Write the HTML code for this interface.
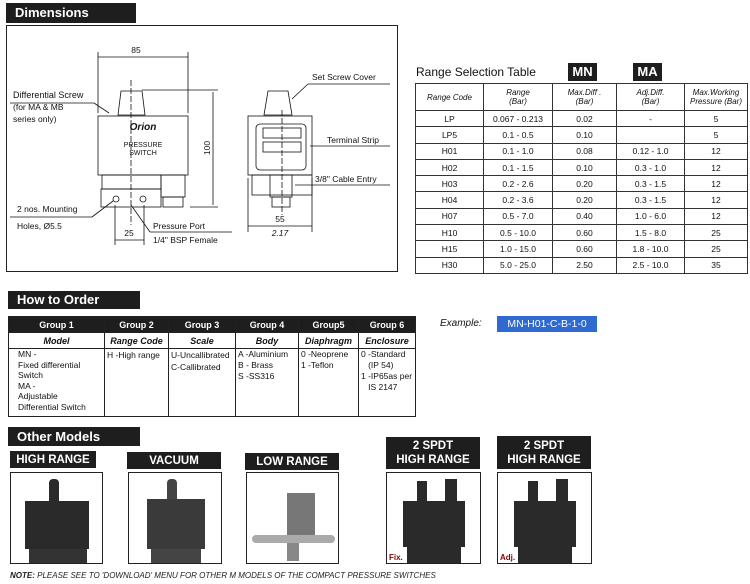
<!DOCTYPE html>
<html><head><meta charset="utf-8"><style>
body{margin:0;width:750px;height:584px;background:#fff;font-family:"Liberation Sans",sans-serif;position:relative;overflow:hidden;color:#111}
.a{position:absolute}
.hd{position:absolute;background:#1e1e1e;color:#fff;font-weight:bold;font-size:13px;padding-left:9px;box-sizing:border-box;line-height:19px}
table{border-collapse:collapse;position:absolute}
.rt td{border:1px solid #333;text-align:center;font-size:8.5px;height:15.3px;padding:0}
.rt th{border:1px solid #333;font-size:8px;font-style:italic;font-weight:normal;height:26px;padding:0;line-height:9px}
.ot td{border:1px solid #222;font-size:8.5px;padding:0 2px;vertical-align:top}
.ot tr.h td{background:#1e1e1e;color:#fff;font-weight:bold;text-align:center;height:15px;vertical-align:middle;font-size:9px}
.ot tr.s td{font-weight:bold;font-style:italic;text-align:center;height:15px;vertical-align:middle;font-size:9px}
.lbl{position:absolute;background:#1e1e1e;color:#fff;font-weight:bold;font-size:11.5px;text-align:center;line-height:14px;display:flex;align-items:center;justify-content:center}
.img{position:absolute;border:1px solid #222;box-sizing:border-box;background:#fff}
.sw{position:absolute;background:#2a2a2a}
</style></head><body>
<div class="hd" style="left:6px;top:3px;width:130px;height:20px">Dimensions</div>
<div class="a" style="left:6px;top:25px;width:392px;height:247px;border:1px solid #222;box-sizing:border-box"></div>
<svg class="a" style="left:0;top:0" width="400" height="275" font-family="Liberation Sans" font-size="8.5" fill="#111">
<g stroke="#111" fill="none" stroke-width="0.8">
<line x1="98" y1="52" x2="98" y2="113"/><line x1="188" y1="52" x2="188" y2="113"/>
<line x1="98" y1="57" x2="188" y2="57"/>
<polygon points="121,91 142,91 145,115 118,115"/>
<rect x="98" y="116" width="90" height="59"/>
<rect x="102" y="175" width="59" height="14"/>
<rect x="101" y="189" width="60" height="18"/>
<rect x="161" y="175" width="24" height="22"/><rect x="163" y="197" width="20" height="10"/>
<line x1="131" y1="80" x2="131" y2="225" stroke-dasharray="6,2"/>
<circle cx="116" cy="199" r="3"/><circle cx="143" cy="199" r="3"/>
<line x1="142" y1="90" x2="218" y2="90"/><line x1="190" y1="207" x2="218" y2="207"/>
<line x1="213" y1="92" x2="213" y2="205"/>
<line x1="115" y1="205" x2="115" y2="245"/><line x1="144" y1="205" x2="144" y2="245"/>
<line x1="115" y1="240" x2="144" y2="240"/>
<line x1="10" y1="103" x2="94" y2="103"/><line x1="94" y1="103" x2="109" y2="113"/>
<line x1="10" y1="217" x2="92" y2="217"/><line x1="92" y1="217" x2="113" y2="201"/>
<line x1="131" y1="205" x2="150" y2="232"/><line x1="150" y1="232" x2="232" y2="232"/>
<polygon points="268,91 288,91 292,115 264,115"/>
<rect x="248" y="116" width="64" height="59"/>
<rect x="256" y="124" width="50" height="46" rx="4"/>
<rect x="263" y="128" width="38" height="10"/><rect x="263" y="142" width="38" height="10"/>
<rect x="270" y="175" width="22" height="22"/><rect x="272" y="197" width="18" height="10"/>
<rect x="252" y="175" width="60" height="20"/>
<line x1="282" y1="110" x2="282" y2="215" stroke-dasharray="6,2"/>
<line x1="248" y1="178" x2="248" y2="232"/><line x1="312" y1="178" x2="312" y2="232"/>
<line x1="248" y1="226" x2="312" y2="226"/>
<line x1="292" y1="99" x2="308" y2="84"/><line x1="308" y1="84" x2="390" y2="84"/>
<line x1="310" y1="146" x2="390" y2="146"/>
<line x1="295" y1="185" x2="390" y2="185"/>
</g>
<text x="136" y="53" text-anchor="middle">85</text>
<text x="13" y="98" font-size="9">Differential Screw</text>
<text x="13" y="110">(for MA &amp; MB</text><text x="13" y="122">series only)</text>
<text x="143" y="130" text-anchor="middle" font-weight="bold" font-style="italic" font-size="10">Orion</text>
<text x="143" y="147" text-anchor="middle" font-size="7">PRESSURE</text><text x="143" y="155" text-anchor="middle" font-size="7">SWITCH</text>
<text x="210" y="148" transform="rotate(-90 210 148)" text-anchor="middle">100</text>
<text x="17" y="212">2 nos. Mounting</text><text x="17" y="229">Holes, Ø5.5</text>
<text x="129" y="236" text-anchor="middle">25</text>
<text x="153" y="229">Pressure Port</text><text x="153" y="243">1/4" BSP Female</text>
<text x="312" y="80">Set Screw Cover</text>
<text x="327" y="143">Terminal Strip</text>
<text x="315" y="182">3/8" Cable Entry</text>
<text x="280" y="222" text-anchor="middle">55</text>
<text x="280" y="236" text-anchor="middle" font-style="italic">2.17</text>
</svg>

<div class="a" style="left:416px;top:65px;font-size:12px">Range Selection Table</div>
<div class="hd" style="left:568px;top:63px;width:29px;height:18px;padding:0;text-align:center;line-height:18px">MN</div>
<div class="hd" style="left:633px;top:63px;width:29px;height:18px;padding:0;text-align:center;line-height:18px">MA</div>
<table class="rt" style="left:415px;top:83px;width:333px">
<tr><th style="width:67px">Range Code</th><th style="width:68px">Range<br>(Bar)</th><th style="width:63px">Max.Diff .<br>(Bar)</th><th style="width:67px">Adj.Diff.<br>(Bar)</th><th>Max.Working<br>Pressure (Bar)</th></tr>
<tr><td>LP</td><td>0.067 - 0.213</td><td>0.02</td><td>-</td><td>5</td></tr>
<tr><td>LP5</td><td>0.1 - 0.5</td><td>0.10</td><td></td><td>5</td></tr>
<tr><td>H01</td><td>0.1 - 1.0</td><td>0.08</td><td>0.12 - 1.0</td><td>12</td></tr>
<tr><td>H02</td><td>0.1 - 1.5</td><td>0.10</td><td>0.3 - 1.0</td><td>12</td></tr>
<tr><td>H03</td><td>0.2 - 2.6</td><td>0.20</td><td>0.3 - 1.5</td><td>12</td></tr>
<tr><td>H04</td><td>0.2 - 3.6</td><td>0.20</td><td>0.3 - 1.5</td><td>12</td></tr>
<tr><td>H07</td><td>0.5 - 7.0</td><td>0.40</td><td>1.0 - 6.0</td><td>12</td></tr>
<tr><td>H10</td><td>0.5 - 10.0</td><td>0.60</td><td>1.5 - 8.0</td><td>25</td></tr>
<tr><td>H15</td><td>1.0 - 15.0</td><td>0.60</td><td>1.8 - 10.0</td><td>25</td></tr>
<tr><td>H30</td><td>5.0 - 25.0</td><td>2.50</td><td>2.5 - 10.0</td><td>35</td></tr>
</table>

<div class="hd" style="left:8px;top:291px;width:132px;height:18px;line-height:18px">How to Order</div>
<table class="ot" style="left:8px;top:316px;width:408px">
<tr class="h"><td style="width:91px">Group 1</td><td style="width:59px">Group 2</td><td style="width:62px">Group 3</td><td style="width:58px">Group 4</td><td style="width:55px">Group5</td><td>Group 6</td></tr>
<tr class="s"><td>Model</td><td>Range Code</td><td>Scale</td><td>Body</td><td>Diaphragm</td><td>Enclosure</td></tr>
<tr style="height:68px"><td style="padding-left:9px;line-height:10.5px">MN -<br>Fixed differential<br>Switch<br>MA -<br>Adjustable<br>Differential Switch</td><td style="line-height:13px">H -High range</td><td style="line-height:12px">U-Uncallibrated<br>C-Callibrated</td><td style="line-height:11px">A -Aluminium<br>B - Brass<br>S -SS316</td><td style="line-height:11px">0 -Neoprene<br>1 -Teflon</td><td style="line-height:11px">0 -Standard<br>&nbsp;&nbsp;&nbsp;(IP 54)<br>1 -IP65as per<br>&nbsp;&nbsp;&nbsp;IS 2147</td></tr>
</table>
<div class="a" style="left:440px;top:318px;font-size:10px;font-style:italic">Example:</div>
<div class="a" style="left:497px;top:316px;width:100px;height:16px;background:#2f6ad0;color:#fff;font-size:10.5px;line-height:16px;text-align:center">MN-H01-C-B-1-0</div>

<div class="hd" style="left:8px;top:427px;width:132px;height:19px">Other Models</div>
<div class="lbl" style="left:10px;top:451px;width:86px;height:17px">HIGH RANGE</div>
<div class="lbl" style="left:127px;top:452px;width:94px;height:17px">VACUUM</div>
<div class="lbl" style="left:245px;top:453px;width:94px;height:17px">LOW RANGE</div>
<div class="lbl" style="left:386px;top:437px;width:94px;height:32px">2 SPDT<br>HIGH RANGE</div>
<div class="lbl" style="left:497px;top:436px;width:94px;height:33px">2 SPDT<br>HIGH RANGE</div>

<div class="img" style="left:10px;top:472px;width:93px;height:92px"><div class="sw" style="left:38px;top:6px;width:10px;height:24px;border-radius:4px 4px 0 0"></div><div class="sw" style="left:14px;top:28px;width:64px;height:48px"></div><div class="sw" style="left:18px;top:76px;width:58px;height:14px;background:#333"></div></div>
<div class="img" style="left:128px;top:472px;width:94px;height:92px"><div class="sw" style="left:38px;top:6px;width:10px;height:24px;border-radius:4px 4px 0 0;background:#444"></div><div class="sw" style="left:18px;top:26px;width:58px;height:50px;background:#3a3a3a"></div><div class="sw" style="left:22px;top:76px;width:50px;height:14px;background:#444"></div></div>
<div class="img" style="left:246px;top:472px;width:93px;height:92px"><div class="sw" style="left:40px;top:20px;width:28px;height:42px;background:#777"></div><div class="sw" style="left:5px;top:62px;width:83px;height:8px;background:#aaa;border-radius:4px"></div><div class="sw" style="left:40px;top:70px;width:12px;height:18px;background:#888"></div></div>
<div class="img" style="left:386px;top:472px;width:95px;height:92px"><div class="sw" style="left:30px;top:8px;width:10px;height:22px"></div><div class="sw" style="left:58px;top:6px;width:12px;height:30px"></div><div class="sw" style="left:16px;top:28px;width:62px;height:46px"></div><div class="sw" style="left:20px;top:74px;width:54px;height:16px"></div><div class="a" style="left:2px;top:80px;font-size:8px;color:#800;font-weight:bold">Fix.</div></div>
<div class="img" style="left:497px;top:472px;width:95px;height:92px"><div class="sw" style="left:30px;top:8px;width:10px;height:22px"></div><div class="sw" style="left:58px;top:6px;width:12px;height:30px"></div><div class="sw" style="left:16px;top:28px;width:62px;height:46px"></div><div class="sw" style="left:20px;top:74px;width:54px;height:16px"></div><div class="a" style="left:2px;top:80px;font-size:8px;color:#800;font-weight:bold">Adj.</div></div>

<div class="a" style="left:10px;top:571px;font-size:8px;font-style:italic;color:#222"><b>NOTE:</b> PLEASE SEE TO 'DOWNLOAD' MENU FOR OTHER M MODELS OF THE COMPACT PRESSURE SWITCHES</div>
</body></html>
